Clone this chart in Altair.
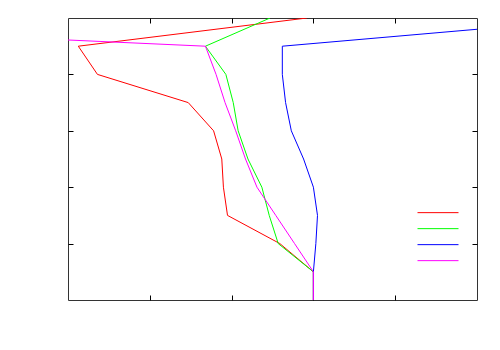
import altair as alt
import pandas as pd

names = ["s1", "s2", "s3", "s4"]
colors = ["#ff0000", "#00ff00", "#0000ff", "#ff00ff"]

red_x = [3.0, 3.0, 2.59, 1.95, 1.90, 1.88, 1.78, 1.47, 0.36, 0.126, 2.92]
red_y = [0.0, 0.5, 1.0, 1.5, 2.0, 2.5, 3.0, 3.5, 4.0, 4.5, 5.0]

green_x = [3.0, 3.0, 2.57, 2.46, 2.37, 2.20, 2.08, 2.02, 1.93, 1.68, 2.47]
green_y = [0.0, 0.5, 1.0, 1.5, 2.0, 2.5, 3.0, 3.5, 4.0, 4.5, 5.0]

blue_x = [3.0, 3.0, 3.03, 3.05, 3.0, 2.88, 2.73, 2.66, 2.62, 2.62, 5.0]
blue_y = [0.0, 0.5, 1.0, 1.5, 2.0, 2.5, 3.0, 3.5, 4.0, 4.5, 4.8]

magenta_x = [3.0, 3.0, 2.77, 2.54, 2.31, 2.17, 2.05, 1.92, 1.81, 1.68, 0.0]
magenta_y = [0.0, 0.5, 1.0, 1.5, 2.0, 2.5, 3.0, 3.5, 4.0, 4.5, 4.61]

tick_values = [1, 2, 3, 4]

rows = []
for name, xs, ys in zip(names, [red_x, green_x, blue_x, magenta_x],
                        [red_y, green_y, blue_y, magenta_y]):
    for i, (xv, yv) in enumerate(zip(xs, ys)):
        rows.append({"series": name, "i": i, "x": xv, "y": yv})
df = pd.DataFrame(rows)

x_scale = alt.Scale(domain=[0, 5], nice=False, zero=False)
y_scale = alt.Scale(domain=[0, 5], nice=False, zero=False)


def tick_axis(orient):
    return alt.Axis(orient=orient, values=tick_values, labels=False, domain=False,
                    grid=False, ticks=True, tickSize=5, tickColor="black",
                    tickWidth=1, offset=-5, title=None)


base = alt.Chart(df)

lines = base.mark_line(strokeWidth=1, clip=True).encode(
    x=alt.X("x:Q", scale=x_scale, axis=tick_axis("bottom")),
    y=alt.Y("y:Q", scale=y_scale, axis=tick_axis("left")),
    color=alt.Color("series:N", scale=alt.Scale(domain=names, range=colors),
                    legend=alt.Legend(orient="none", legendX=349, legendY=187,
                                      symbolType="stroke", symbolSize=1681,
                                      symbolStrokeWidth=1, labelExpr="''",
                                      title=None, padding=0, rowPadding=0,
                                      clipHeight=15.3, labelFontSize=1)),
    order="i:Q",
)

mirror = base.mark_line(opacity=0).encode(
    x=alt.X("x:Q", scale=x_scale, axis=tick_axis("top")),
    y=alt.Y("y:Q", scale=y_scale, axis=tick_axis("right")),
    detail="series:N",
    order="i:Q",
)

chart = (
    alt.layer(lines, mirror)
    .resolve_axis(x="independent", y="independent")
    .properties(width=409, height=282,
                autosize=alt.AutoSizeParams(type="none"),
                padding={"left": 60, "top": 10, "right": 15, "bottom": 42},
                background="white")
    .configure_view(stroke="#333333", strokeWidth=1)
)

chart.save("out.html", embed_options={"renderer": "svg", "actions": False})
